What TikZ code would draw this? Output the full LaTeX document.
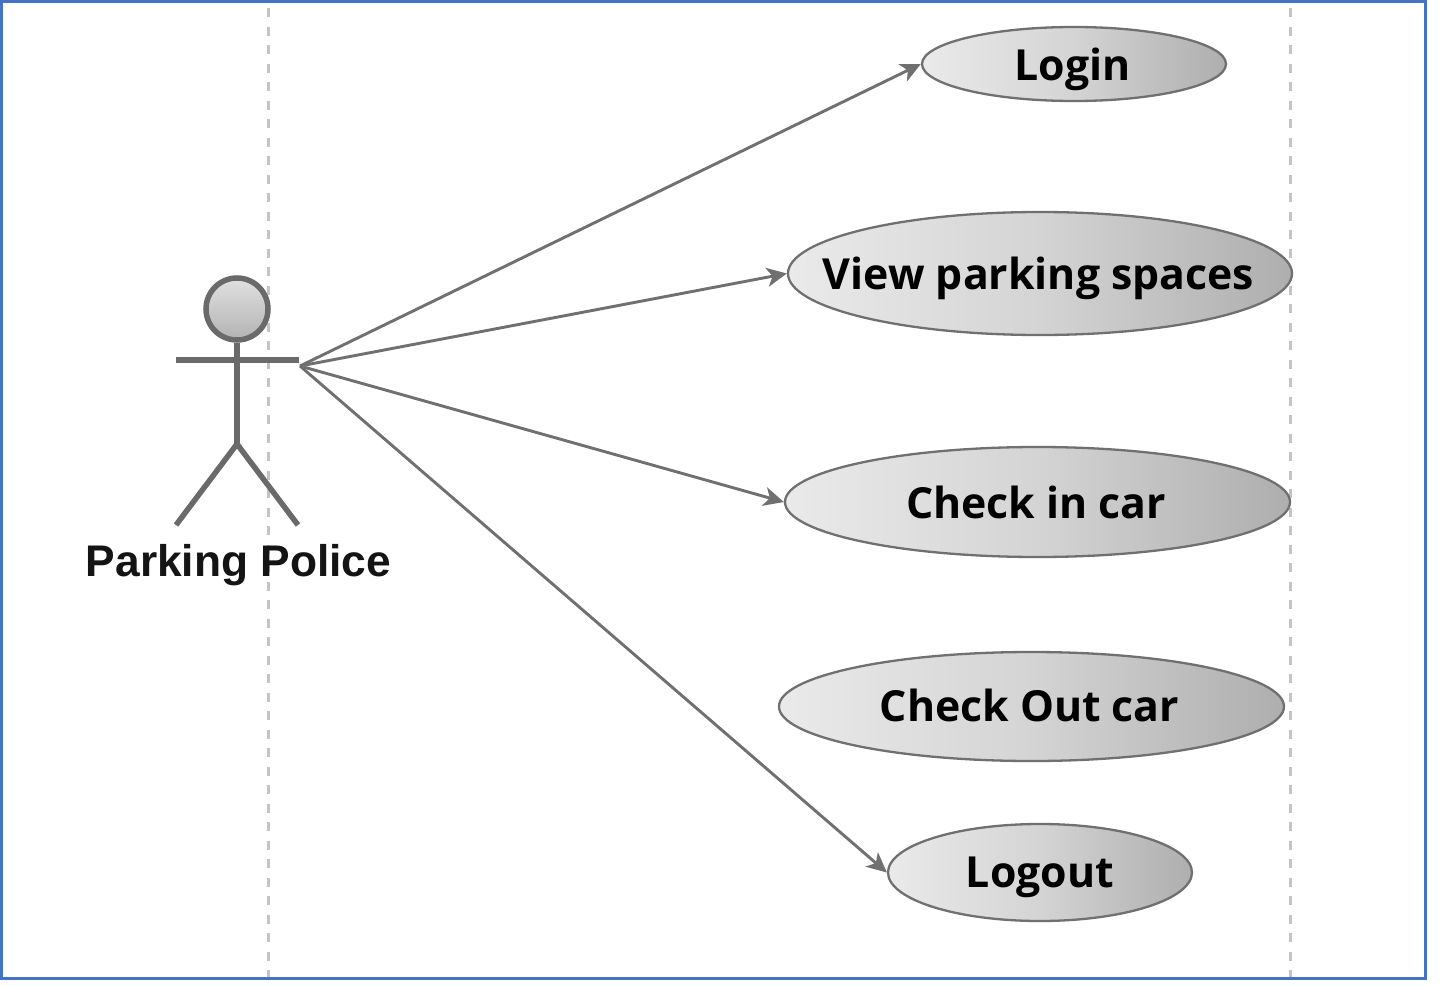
\documentclass[tikz,border=0pt]{standalone}
\usepackage{fontspec}
\setmainfont{Liberation Sans}
\newfontfamily\ucfont{Open Sans}
\usetikzlibrary{shapes.geometric,arrows.meta}
\definecolor{frameblue}{HTML}{4472C4}
\definecolor{ucline}{HTML}{707070}
\definecolor{actline}{HTML}{6A6A6A}
\definecolor{lifeline}{HTML}{C4C4C4}
\definecolor{ucleft}{HTML}{EAEAEA}
\definecolor{ucmid}{HTML}{D4D4D4}
\definecolor{ucright}{HTML}{AEAEAE}
\newcommand{\uctext}[2][13.5pt]{\makebox[0pt][c]{\smash{\raisebox{-#1}{#2}}}}
\tikzset{
  usecase/.style={ellipse,draw=ucline,line width=2.3pt,left color=ucleft,right color=ucright,middle color=ucmid,
    inner sep=0pt,font=\ucfont\bfseries\fontsize{42.8}{46}\selectfont,text=black},
  assoc/.style={draw=ucline,line width=2.9pt,-{Stealth[inset=5.5pt,length=20pt,width=19pt]}},
  limb/.style={draw=actline,line width=5.5pt},
  life/.style={draw=lifeline,line width=2.4pt,dash pattern=on 9pt off 9.5pt},
}
\begin{document}
\begin{tikzpicture}[x=1pt,y=-1pt]
\useasboundingbox (0,0) rectangle (1449,985);
\fill[white] (0,0) rectangle (1449,985);
\coordinate (t1) at (268.5,8); \coordinate (b1) at (268.5,978);
\coordinate (t2) at (1290.5,8); \coordinate (b2) at (1290.5,978);
\draw[life] (t1) -- (b1);
\draw[life] (t2) -- (b2);
\draw[frameblue,line width=3pt] (1.5,1.5) rectangle (1425.5,978);
\node[usecase,minimum width=304pt,minimum height=74pt] (login) at (1074,64) {\hspace{-3pt}\uctext[16pt]{Login}};
\node[usecase,minimum width=504pt,minimum height=123pt] (view) at (1040,273.5) {\hspace{-3pt}\uctext[15.5pt]{View parking spaces}};
\node[usecase,minimum width=505pt,minimum height=110pt] (checkin) at (1037.5,502) {\hspace{-3pt}\uctext[16pt]{Check in car}};
\node[usecase,minimum width=505pt,minimum height=109pt] (checkout) at (1031.5,706.5) {\hspace{-4pt}\uctext[14.5pt]{Check Out car}};
\node[usecase,minimum width=304pt,minimum height=97pt] (logout) at (1040,872.5) {\uctext[14.5pt]{Logout}};
% actor
\node[circle,draw=actline,line width=5.5pt,minimum size=62pt,inner sep=0pt,top color=white!88!black,bottom color=white!70!black] (head) at (237,309) {};
\coordinate (hip) at (237,444);
\coordinate (armL) at (176,360);
\coordinate (armR) at (299,360);
\coordinate (legL) at (176,525);
\coordinate (legR) at (298,525);
\draw[limb] (head.south) -- (hip);
\draw[limb] (armL) -- (armR);
\draw[limb] (legL) -- (hip) -- (legR);
\node[font=\bfseries\fontsize{44.3}{48}\selectfont,text=black!92,inner sep=0pt,anchor=base] (label) at (238.5,576) {Parking Police};
\coordinate (src) at (300,366);
\draw[assoc] (src) -- (login.west);
\draw[assoc] (src) -- (view.west);
\draw[assoc] (src) -- (checkin.west);
\draw[assoc] (src) -- (logout.west);
\end{tikzpicture}
\end{document}
